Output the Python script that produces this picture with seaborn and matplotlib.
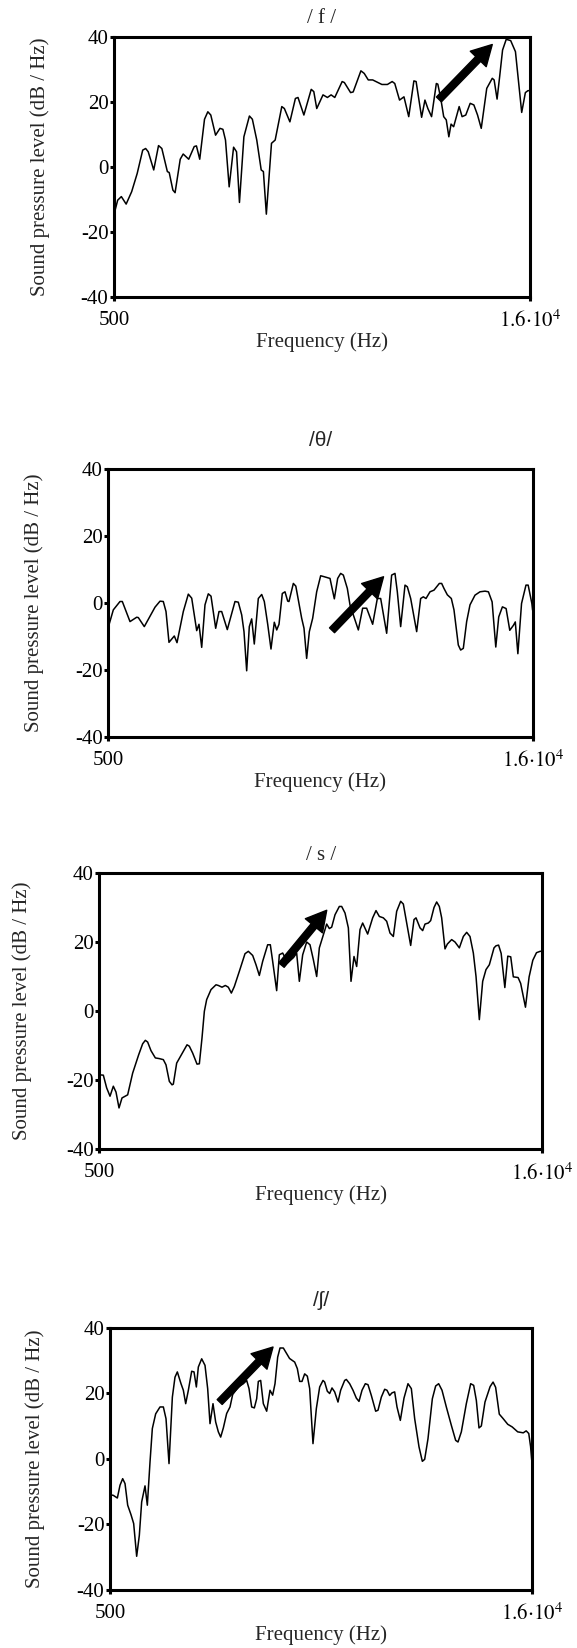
import pandas as pd
import seaborn as sns
import matplotlib.pyplot as plt
from matplotlib.patches import FancyArrowPatch

sns.set_theme(style="white")
plt.rcParams['font.family'] = ['Liberation Serif', 'DejaVu Serif']
plt.rcParams['mathtext.fontset'] = 'stix'
plt.rcParams['axes.unicode_minus'] = False

# ---- spectra: frequency (Hz) and sound pressure level (dB/Hz) ----
f_hz = [510, 637, 774, 953, 1158, 1364, 1570, 1680, 1776, 1981, 2160, 2283, 2489, 2558,
        2695, 2777, 2969, 3079, 3285, 3490, 3573, 3696, 3874, 3998, 4108, 4286, 4450, 4560,
        4656, 4793, 4958, 5068, 5177, 5342, 5548, 5658, 5822, 5987, 6069, 6179, 6371, 6508,
        6755, 6851, 7057, 7262, 7359, 7578, 7852, 7948, 8058, 8291, 8456, 8593, 8730, 9005,
        9087, 9320, 9416, 9704, 9828, 9978, 10143, 10486, 10692, 10870, 10966, 11144, 11309,
        11487, 11679, 11762, 11967, 12091, 12200, 12338, 12516, 12571, 12681, 12790, 12886,
        12982, 13065, 13161, 13367, 13476, 13613, 13778, 13915, 14052, 14190, 14395, 14601,
        14670, 14780, 14876, 14985, 15122, 15287, 15465, 15698, 15835, 15931, 15986]
f_db = [-14.4, -10.3, -9.2, -11.5, -7.7, -2.1, 5.1, 5.6, 4.6, -1.0, 6.5, 5.6, -1.5, -1.8,
        -7.2, -8.0, 2.3, 3.9, 2.3, 6.2, 6.4, 2.3, 14.6, 16.9, 15.9, 9.7, 11.8, 11.5,
        8.2, -6.2, 6.0, 4.6, -11.0, 9.2, 15.6, 14.6, 8.2, -1.0, -1.5, -14.6, 7.2, 8.2,
        18.5, 17.9, 13.8, 21.0, 21.3, 15.9, 23.8, 23.1, 17.9, 22.1, 21.3, 22.1, 21.3, 26.2,
        25.9, 22.8, 23.0, 29.5, 28.7, 26.7, 26.7, 25.3, 25.3, 26.2, 25.6, 20.5, 21.5,
        15.4, 26.4, 26.2, 15.2, 20.5, 17.9, 15.4, 25.6, 25.4, 21.0, 15.4, 14.4,
        9.2, 13.1, 12.3, 18.5, 15.4, 15.9, 19.5, 19.0, 15.9, 11.8, 24.1, 27.2,
        26.7, 20.8, 27.7, 35.9, 39.2, 38.8, 35.4, 16.7, 22.8, 23.4, 23.4]

th_hz = [510, 683, 927, 1012, 1293, 1537, 1596, 1815, 2206, 2389, 2509, 2608, 2717, 2911,
         3010, 3240, 3423, 3547, 3729, 3813, 3912, 4032, 4153, 4252, 4423, 4544, 4642, 4847,
         5128, 5249, 5373, 5457, 5555, 5651, 5738, 5833, 5980, 6104, 6199, 6323, 6443, 6564,
         6652, 6736, 6856, 6955, 7054, 7100, 7260, 7350, 7564, 7649, 7746, 7844, 7966, 8112,
         8258, 8392, 8599, 8757, 8879, 8988, 9086, 9232, 9329, 9634, 9792, 9938, 10157, 10328,
         10450, 10669, 10851, 10973, 11058, 11180, 11339, 11424, 11546, 11765, 11911, 12008,
         12106, 12252, 12398, 12593, 12678, 12763, 12885, 13031, 13128, 13286, 13372, 13469,
         13591, 13713, 13896, 14078, 14261, 14386, 14521, 14655, 14763, 14897, 15032, 15166,
         15301, 15368, 15462, 15596, 15758, 15838, 15973, 16000]
th_db = [-7.0, -2.1, 0.4, 0.4, -5.6, -4.3, -4.4, -7.1, -1.3, 0.5, 0.4, -2.6, -11.8, -9.9,
         -11.9, -2.6, 2.6, 1.4, -8.3, -6.4, -13.3, -0.6, 2.7, 2.0, -7.6, -2.6, -2.6, -8.0,
         0.4, 0.2, -3.6, -8.6, -20.3, -7.1, -4.8, -12.3, 1.3, 2.5, 0.4, -6.4, -13.8, -5.8,
         -8.1, -6.4, 2.8, 3.3, 0.5, 0.4, 5.8, 5.0, -4.6, -7.6, -16.6, -8.6, -4.6, 3.3,
         8.1, 7.8, 7.3, 1.2, 7.3, 8.8, 8.3, 4.3, -0.6, -8.1, -1.6, -1.6, -6.4, 1.3,
         1.3, -9.1, 8.3, 8.8, 3.3, -7.1, 5.3, 4.8, 1.3, -8.6, 1.3, 1.8,
         1.3, 3.3, 3.8, 5.8, 5.8, 4.3, 2.4, 1.3, -2.1, -12.6, -14.1, -13.6,
         -5.6, -0.6, 2.3, 3.3, 3.5, 3.3, 0.3, -13.2, -4.2, -1.2, -1.7, -8.2,
         -6.7, -5.7, -15.2, -0.2, 5.3, 5.3, -0.2, -2.2]

s_hz = [510, 641, 758, 875, 991, 1085, 1190, 1295, 1493, 1668, 1878, 2018, 2112, 2193,
        2310, 2462, 2602, 2742, 2835, 2952, 3046, 3092, 3209, 3360, 3571, 3652, 3769, 3921,
        4003, 4096, 4178, 4259, 4411, 4586, 4668, 4796, 4913, 5017, 5123, 5228, 5403, 5601,
        5718, 5870, 5987, 6103, 6220, 6395, 6488, 6570, 6710, 6803, 6920, 7100, 7300, 7410,
        7504, 7621, 7761, 7877, 7994, 8111, 8204, 8344, 8461, 8554, 8636, 8753, 8904, 8986,
        9103, 9220, 9313, 9418, 9511, 9628, 9721, 9896, 10071, 10188, 10305, 10445, 10562,
        10678, 10795, 10912, 11052, 11145, 11262, 11402, 11519, 11589, 11729, 11822, 11904,
        12020, 12102, 12219, 12312, 12405, 12487, 12604, 12686, 12837, 12954, 13106, 13246,
        13363, 13479, 13596, 13690, 13806, 13923, 14039, 14156, 14320, 14390, 14480, 14570,
        14699, 14802, 14905, 14996, 15163, 15253, 15421, 15549, 15678, 15807, 15936, 15990]
s_db = [-18.5, -18.6, -22.3, -24.7, -21.8, -23.5, -28.1, -25.2, -24.3, -18.0, -12.7, -9.5, -8.5, -9.0,
        -11.5, -13.6, -13.8, -14.1, -15.6, -20.4, -21.4, -21.2, -15.1, -12.9, -9.8, -10.2, -12.2, -15.4,
        -15.3, -7.8, -0.1, 3.3, 6.2, 7.6, 7.4, 6.9, 7.4, 6.9, 5.2, 7.1, 11.5, 16.6,
        17.3, 16.1, 13.4, 10.3, 14.4, 19.2, 19.2, 14.4, 5.9, 16.3, 16.8, 14.0, 15.5, 16.8,
        8.6, 16.3, 20.0, 19.2, 14.9, 10.0, 18.3, 22.1, 25.2, 23.9, 24.3, 27.9, 30.3, 30.3,
        28.4, 24.1, 8.6, 15.8, 12.9, 23.6, 25.5, 22.3, 27.0, 29.1, 27.4, 27.0, 26.0,
        22.6, 21.6, 28.9, 31.8, 31.0, 25.5, 19.0, 26.5, 27.0, 24.1, 23.3, 25.2,
        25.5, 26.2, 30.0, 31.6, 30.3, 27.0, 18.0, 19.4, 20.7, 20.0, 18.3, 21.6,
        22.8, 21.6, 16.8, 10.0, -2.5, 8.6, 12.0, 13.4, 18.3, 18.9, 19.1, 16.7,
        6.8, 15.9, 15.7, 9.9, 9.7, 8.0, 1.1, 9.9, 14.7, 16.9, 17.3, 17.3]

sh_hz = [510, 623, 770, 868, 966, 1052, 1150, 1272, 1370, 1480, 1578, 1664, 1787, 1872,
         1971, 2056, 2179, 2338, 2461, 2559, 2669, 2792, 2889, 2975, 3110, 3196, 3282, 3380,
         3502, 3588, 3674, 3747, 3870, 3992, 4090, 4176, 4286, 4384, 4482, 4568, 4666, 4788,
         4911, 5009, 5217, 5401, 5524, 5610, 5707, 5805, 5891, 5952, 6038, 6136, 6259, 6381,
         6479, 6565, 6663, 6749, 6871, 6994, 7100, 7288, 7386, 7471, 7557, 7655, 7753, 7839,
         7961, 8084, 8207, 8329, 8390, 8488, 8574, 8660, 8758, 8880, 8978, 9125, 9187, 9309,
         9432, 9554, 9652, 9763, 9885, 9983, 10106, 10265, 10351, 10473, 10596, 10681, 10779,
         10865, 10963, 11049, 11171, 11306, 11453, 11576, 11699, 11858, 11980, 12066, 12188,
         12348, 12470, 12580, 12703, 12862, 13046, 13205, 13291, 13414, 13597, 13757, 13867,
         13965, 14063, 14149, 14283, 14471, 14580, 14674, 14809, 14944, 15120, 15283, 15485,
         15689, 15797, 15892, 15959, 16000]
sh_db = [-11.0, -11.2, -12.0, -8.1, -6.1, -7.6, -14.2, -17.1, -19.8, -29.8, -23.4, -13.2, -8.3, -14.2,
         -1.0, 9.2, 13.7, 15.8, 15.8, 12.2, -1.5, 18.8, 24.9, 26.5, 22.9, 20.9, 16.8, 20.9,
         26.7, 26.5, 21.9, 28.0, 30.5, 28.5, 21.4, 10.7, 16.8, 11.2, 8.2, 6.6, 9.4, 13.8,
         15.8, 19.6, 21.9, 22.9, 23.9, 21.4, 15.8, 15.5, 18.3, 23.6, 23.9, 16.8, 14.5, 20.9,
         19.4, 22.9, 31.0, 33.8, 33.8, 32.1, 30.6, 29.5, 27.5, 23.6, 23.6, 25.9, 25.2, 21.4,
         4.6, 15.3, 21.9, 23.9, 23.4, 20.6, 19.9, 21.6, 20.4, 17.3, 20.9, 23.9, 24.2, 22.9,
         20.9, 18.5, 17.5, 20.9, 22.9, 22.6, 19.3, 14.5, 14.8, 18.8, 21.2, 20.9, 19.3,
         20.1, 20.4, 15.8, 11.7, 18.5, 22.9, 21.4, 12.2, 3.6, -0.8, -0.2, 6.1,
         18.3, 22.2, 22.9, 20.9, 15.8, 10.2, 5.6, 5.1, 8.2, 16.8, 22.9, 22.4,
         17.8, 9.4, 10.0, 17.3, 22.0, 23.4, 21.8, 13.6, 12.3, 10.5, 9.7, 8.2,
         7.9, 8.5, 7.7, 3.7, -0.4]

# arrows marking the rising energy: (tail Hz, tail dB, head Hz, head dB)
f_arrow = [12612, 20.7, 14601, 37.6]
th_arrow = [8673, -8.2, 10555, 7.8]
s_arrow = [6878, 13.3, 8463, 29.2]
sh_arrow = [4531, 17.3, 6492, 34.1]

titles = ["/ f /", "/θ/", "/ s /", "/ʃ/"]
title_serif = [True, False, True, False]
ytick_vals = [-40, -20, 0, 20, 40]
ytick_text = ["-40", "-20", "0", "20", "40"]
xtick_vals = [500, 16000]
xtick_text = ["500", r"$1.6{\cdot}10^{4}$"]

series = [(f_hz, f_db, f_arrow), (th_hz, th_db, th_arrow),
          (s_hz, s_db, s_arrow), (sh_hz, sh_db, sh_arrow)]

# ---- layout (pixel boxes on a 577 x 1648 canvas) ----
W, H = 577, 1648
boxes = [  # left, top, right, bottom
    (114, 36.7, 529.8, 296.7),
    (108.3, 469, 532.6, 736.7),
    (99.3, 873, 542, 1149),
    (110, 1327.7, 531.7, 1589.7),
]
title_y = [18.3, 440, 855, 1300]
ylabel_x = [40.5, 34, 22, 35]
xlabel_y = [341.7, 781.7, 1195, 1635]

fig = plt.figure(figsize=(W / 100, H / 100), dpi=100)
fig.patch.set_facecolor("white")

for i, (hz, db, arr) in enumerate(series):
    l, t, r, b = boxes[i]
    ax = fig.add_axes([l / W, 1 - b / H, (r - l) / W, (b - t) / H])
    df = pd.DataFrame({"Frequency": hz, "Level": db})
    sns.lineplot(data=df, x="Frequency", y="Level", ax=ax, color="black",
                 linewidth=1.1, sort=False, estimator=None)
    ax.set_xlim(500, 16000)
    ax.set_ylim(-40, 40)
    ax.set_xticks(xtick_vals)
    ax.set_xticklabels(xtick_text)
    ax.set_yticks(ytick_vals)
    ax.set_yticklabels(ytick_text)
    ax.set_xlabel("")
    ax.set_ylabel("")
    ax.grid(False)
    for sp in ax.spines.values():
        sp.set_visible(True)
        sp.set_color("black")
        sp.set_linewidth(2.2)
    ax.tick_params(axis="both", which="both", direction="out", length=3,
                   width=2.2, color="black", labelsize=15, labelcolor="black")
    ax.tick_params(axis="y", pad=1.0, left=True)
    ax.tick_params(axis="x", pad=7, bottom=True)

    arrow = FancyArrowPatch((arr[0], arr[1]), (arr[2], arr[3]),
                            arrowstyle="simple,head_length=1.45,head_width=1.6,tail_width=0.5",
                            mutation_scale=10, color="black", shrinkA=0, shrinkB=0, zorder=5)
    ax.add_patch(arrow)

    cx = (l + r) / 2 / W
    if title_serif[i]:
        fig.text(cx, 1 - title_y[i] / H, titles[i], ha="center", va="center",
                 fontsize=15, family=["Liberation Serif", "DejaVu Serif"])
    else:
        fig.text(cx, 1 - title_y[i] / H, titles[i], ha="center", va="center",
                 fontsize=15, family=["Liberation Sans", "DejaVu Sans"])
    fig.text(ylabel_x[i] / W, 1 - (t + b) / 2 / H, "Sound pressure level (dB / Hz)",
             rotation=90, ha="center", va="center", fontsize=15)
    fig.text(cx, 1 - xlabel_y[i] / H, "Frequency (Hz)", ha="center", va="center",
             fontsize=15)

fig.savefig("out.png", dpi=100, facecolor="white")
